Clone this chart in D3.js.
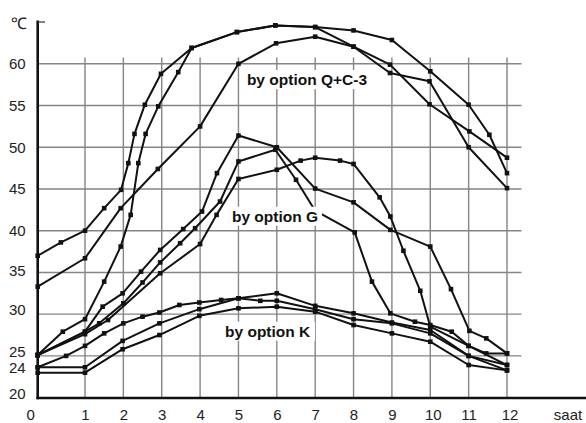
<!DOCTYPE html>
<html>
<head>
<meta charset="utf-8">
<script src="https://cdn.jsdelivr.net/npm/d3@7/dist/d3.min.js"></script>
<style>
  html, body { margin: 0; padding: 0; background: #fff; }
  svg { display: block; }
  text { font-family: "Liberation Sans", Arial, sans-serif; }
</style>
</head>
<body>
<svg id="chart" width="586" height="423"></svg>
<script>
// ---- axis ticks ----
const hourTicks = [0, 1, 2, 3, 4, 5, 6, 7, 8, 9, 10, 11, 12];
const gridHours = [1, 2, 3, 4, 5, 6, 7, 8, 9, 10, 11, 12];
const tempTicks = [20, 24, 25, 30, 35, 40, 45, 50, 55, 60];
const gridTemps = [25, 30, 35, 40, 45, 50, 55, 60];

// ---- option Q+C-3 ----
const q1Hours = [0, 0.49, 1, 1.5, 1.94, 2.13, 2.29, 2.56, 2.98, 3.78, 4.96, 5.96, 7, 8, 9, 10, 11, 11.54, 12];
const q1Temps = [37.0, 38.6, 40.0, 42.7, 44.9, 48.1, 51.6, 55.1, 58.8, 61.9, 63.8, 64.6, 64.4, 64.0, 62.85, 59.1, 55.1, 51.5, 46.9];

const q2Hours = [0, 1, 1.93, 2.9, 4, 5, 5.98, 7, 8, 8.95, 9.98, 11.02, 12];
const q2Temps = [33.3, 36.7, 42.7, 47.4, 52.5, 60.0, 62.45, 63.25, 62.05, 59.9, 55.15, 51.9, 48.75];

const q3Hours = [0, 0.53, 1, 1.5, 1.93, 2.19, 2.39, 2.58, 2.91, 3.43, 3.78, 4.96, 5.96, 7, 8, 8.95, 9.98, 11, 12];
const q3Temps = [25.1, 27.9, 29.4, 33.9, 38.1, 41.9, 48.1, 51.6, 54.9, 59.0, 61.9, 63.8, 64.6, 64.4, 62.05, 58.9, 57.9, 50.0, 45.1];

// ---- option G ----
const g1Hours = [0, 1, 1.46, 1.98, 2.46, 2.96, 3.56, 4.05, 4.44, 5, 6, 7, 8, 8.96, 10, 10.54, 11.02, 11.46, 12];
const g1Temps = [25.1, 27.9, 30.9, 32.5, 35.1, 37.7, 40.2, 42.3, 46.9, 51.4, 50.0, 45.05, 43.4, 40.1, 38.1, 33.0, 28.0, 27.1, 25.3];

const g2Hours = [0, 1, 1.37, 2, 2.5, 2.96, 3.48, 3.87, 4.52, 5, 5.96, 6.5, 7, 8.03, 8.48, 8.96, 9.6, 10, 10.56, 11, 11.46, 12];
const g2Temps = [25.1, 27.9, 28.9, 31.3, 33.8, 36.2, 38.5, 40.3, 43.5, 48.3, 49.7, 46.1, 42.4, 39.8, 33.9, 30.1, 29.1, 28.7, 27.9, 26.2, 25.3, 25.3];

const g3Hours = [0, 1, 1.6, 2.96, 4, 4.43, 5, 6, 6.62, 7, 7.65, 8, 8.68, 8.96, 9.3, 9.74, 10, 11, 12];
const g3Temps = [25.1, 27.6, 29.3, 34.9, 38.4, 41.9, 46.2, 47.3, 48.4, 48.75, 48.4, 48.0, 44.0, 41.7, 37.6, 32.8, 28.5, 26.2, 24.2];

// ---- option K ----
const k1Hours = [0, 0.6, 1, 1.5, 2, 2.5, 2.94, 3.46, 3.98, 4.55, 5, 6, 7, 8, 9, 10, 11, 12];
const k1Temps = [24.0, 25.0, 26.2, 27.7, 28.9, 29.7, 30.2, 31.1, 31.4, 31.7, 31.9, 32.5, 31.0, 30.1, 29.0, 28.1, 25.0, 24.2];

const k2Hours = [0, 1, 1.98, 2.94, 3.98, 5, 5.57, 6, 7, 8, 9, 10, 11, 12];
const k2Temps = [24.0, 24.0, 26.8, 28.9, 30.6, 31.9, 31.6, 31.6, 30.6, 29.4, 28.9, 27.7, 25.0, 23.6];

const k3Hours = [0, 1, 1.98, 2.94, 3.98, 5, 6, 7, 8, 9, 10, 11, 12];
const k3Temps = [23.3, 23.3, 25.8, 27.5, 29.8, 30.7, 30.9, 30.3, 28.7, 27.7, 26.7, 24.2, 23.6];

// group captions: hour where each starts, temperature of its baseline
const captionTexts = ["by option Q+C-3", "by option G", "by option K"];
const captionHours = [5.22, 4.83, 4.65];
const captionTemps = [57.45, 41.08, 27.3];

const seriesHours = [q1Hours, q2Hours, q3Hours, g1Hours, g2Hours, g3Hours, k1Hours, k2Hours, k3Hours];
const seriesTemps = [q1Temps, q2Temps, q3Temps, g1Temps, g2Temps, g3Temps, k1Temps, k2Temps, k3Temps];
const series = seriesHours.map((hs, i) => hs.map((h, j) => ({ h, t: seriesTemps[i][j] })));

// ---- scales (first hour and the 20–25 band are drawn stretched) ----
const x = d3.scaleLinear().domain([0, 1, 12]).range([37.7, 85, 507]);
const y = d3.scaleLinear().domain([20, 24, 25, 60]).range([398, 367.3, 355.9, 63.8]);

const svg = d3.select("#chart");
svg.append("rect").attr("width", 586).attr("height", 423).attr("fill", "#fff");

const gridTop = 57.5, gridRight = 521.5;

// ---- grid ----
const grid = svg.append("g").attr("stroke", "#858585").attr("stroke-width", 1.4);
grid.selectAll("line.v").data(gridHours).join("line")
  .attr("x1", d => x(d)).attr("x2", d => x(d))
  .attr("y1", gridTop).attr("y2", y(20));
grid.selectAll("line.h").data(gridTemps).join("line")
  .attr("x1", x(0)).attr("x2", gridRight)
  .attr("y1", d => y(d)).attr("y2", d => y(d));

// ---- series ----
const line = d3.line().x(d => x(d.h)).y(d => y(d.t));
const lines = svg.append("g");
series.forEach(s => {
  lines.append("path")
    .attr("d", line(s))
    .attr("fill", "none")
    .attr("stroke", "#111")
    .attr("stroke-width", 2)
    .attr("stroke-linejoin", "round");
  lines.append("g").selectAll("rect").data(s).join("rect")
    .attr("x", d => x(d.h) - 2.3).attr("y", d => y(d.t) - 2.3)
    .attr("width", 4.6).attr("height", 4.6)
    .attr("fill", "#111");
});

// ---- axes ----
const yAxis = d3.axisLeft(y).tickValues(tempTicks).tickSize(0).tickPadding(12).tickFormat(d3.format("d"));
const yg = svg.append("g").attr("transform", `translate(${x(0)},0)`).call(yAxis);
yg.select(".domain").remove();
yg.selectAll("text")
  .attr("font-size", 15).attr("fill", "#222")
  .attr("font-family", '"Liberation Sans", Arial, sans-serif')
  .attr("transform", d => `translate(0,${d === 24 ? 0.5 : d <= 30 ? -4.3 : d === 35 ? -2 : 0})`);

const xAxis = d3.axisBottom(x).tickValues(hourTicks).tickSize(0).tickPadding(11.2).tickFormat(d3.format("d"));
const xg = svg.append("g").attr("transform", `translate(0,${y(20)})`).call(xAxis);
xg.select(".domain").remove();
xg.selectAll("text")
  .attr("font-size", 15).attr("fill", "#222")
  .attr("font-family", '"Liberation Sans", Arial, sans-serif')
  .attr("transform", d => `translate(${d === 0 ? -7.5 : (d === 10 || d === 12) ? 2.5 : 0},0)`);

// axis lines
svg.append("line")
  .attr("x1", x(0)).attr("x2", x(0)).attr("y1", 20.5).attr("y2", y(20) + 1.2)
  .attr("stroke", "#111").attr("stroke-width", 2.6);
svg.append("line")
  .attr("x1", x(0)).attr("x2", 45).attr("y1", 22).attr("y2", 22)
  .attr("stroke", "#333").attr("stroke-width", 1.2);
svg.append("line")
  .attr("x1", x(0) - 1.3).attr("x2", 586).attr("y1", y(20)).attr("y2", y(20))
  .attr("stroke", "#111").attr("stroke-width", 2.6);

// unit labels
svg.append("text").attr("x", 19).attr("y", 28.5).attr("text-anchor", "middle")
  .attr("font-size", 16).attr("fill", "#222")
  .attr("font-family", '"Noto Sans CJK SC", "DejaVu Sans", sans-serif')
  .text("℃");
svg.append("text").attr("x", 568).attr("y", y(20) + 11.2).attr("dy", "0.71em")
  .attr("text-anchor", "middle").attr("font-size", 15).attr("fill", "#222")
  .text("saat");

// ---- group captions on white plates ----
const captions = svg.append("g");
captionTexts.forEach((txt, i) => {
  const g = captions.append("g");
  const t = g.append("text")
    .attr("x", x(captionHours[i])).attr("y", y(captionTemps[i]))
    .attr("font-size", 15.5).attr("font-weight", "bold").attr("fill", "#111")
    .text(txt);
  const b = t.node().getBBox();
  g.insert("rect", "text")
    .attr("x", b.x - 4).attr("y", b.y - 1)
    .attr("width", b.width + 8).attr("height", b.height + 2)
    .attr("fill", "#fff");
});
</script>
</body>
</html>
